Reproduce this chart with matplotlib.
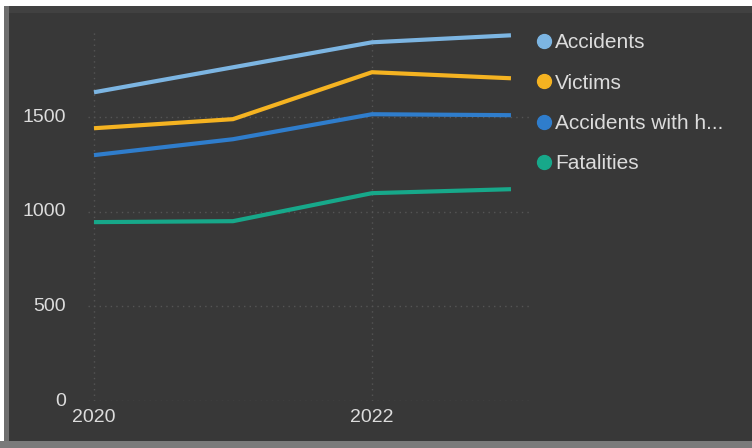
import matplotlib.pyplot as plt
from matplotlib.lines import Line2D
from matplotlib.patches import Rectangle

# Yearly totals per series
years = [2020, 2021, 2022, 2023]
accidents = [1631, 1763, 1895, 1932]
victims = [1441, 1489, 1737, 1705]
accidents_heavy = [1299, 1383, 1515, 1510]
fatalities = [945, 950, 1098, 1119]

series_names = ['Accidents', 'Victims', 'Accidents with h...', 'Fatalities']
series_values = [accidents, victims, accidents_heavy, fatalities]
colors = ['#7cb5e2', '#f5b321', '#2f7dcc', '#17a88a']

y_ticks = [0, 500, 1000, 1500]
x_ticks = [2020, 2022]

bg = '#383838'
text_color = '#dcdcdc'

fig = plt.figure(figsize=(7.52, 4.48), dpi=100, facecolor=bg)
plt.rcParams['font.family'] = ['Liberation Sans', 'DejaVu Sans']

# Frame strips around the card
fig.patches.append(Rectangle((0, 1 - 6 / 448), 1, 6 / 448, transform=fig.transFigure,
                             facecolor='white', edgecolor='none', zorder=5))
fig.patches.append(Rectangle((0, 1 - 13 / 448), 1, 7 / 448, transform=fig.transFigure,
                             facecolor='#414141', edgecolor='none', zorder=4))
fig.patches.append(Rectangle((0, 0), 4 / 752, 1, transform=fig.transFigure,
                             facecolor='white', edgecolor='none', zorder=5))
fig.patches.append(Rectangle((4 / 752, 0), 5 / 752, 1 - 6 / 448, transform=fig.transFigure,
                             facecolor='#6e6e6e', edgecolor='none', zorder=5))
fig.patches.append(Rectangle((0, 0), 1, 7 / 448, transform=fig.transFigure,
                             facecolor='#7a7a7a', edgecolor='none', zorder=5))

ax = fig.add_axes([88 / 752, 47 / 448, 442 / 752, 371 / 448])
ax.set_facecolor(bg)

for name, vals, c in zip(series_names, series_values, colors):
    ax.plot(years, vals, color=c, linewidth=3, solid_capstyle='butt', label=name)

ax.set_xlim(2019.957, 2023.137)
ax.set_ylim(0, 1960)
ax.set_xticks(x_ticks)
ax.set_yticks(y_ticks)
ax.tick_params(length=0, colors=text_color, labelsize=14)
ax.tick_params(axis='y', pad=16)
ax.tick_params(axis='x', pad=6)
for lbl in ax.get_yticklabels():
    lbl.set_verticalalignment('center')
ax.grid(True, color='#555555', linestyle=(0, (1, 3)), linewidth=1)
ax.set_axisbelow(True)
for s in ax.spines.values():
    s.set_visible(False)

handles = [Line2D([], [], marker='o', linestyle='none', markersize=10,
                  markerfacecolor=c, markeredgecolor=c) for c in colors]
leg = fig.legend(handles, series_names, loc='upper left', bbox_to_anchor=(523 / 752, 1 - 23 / 448),
                 frameon=False, fontsize=15, labelcolor=text_color, handletextpad=0.05,
                 handlelength=1.0, labelspacing=1.02, borderpad=0)

fig.savefig('out.png', dpi=100, facecolor=bg)
